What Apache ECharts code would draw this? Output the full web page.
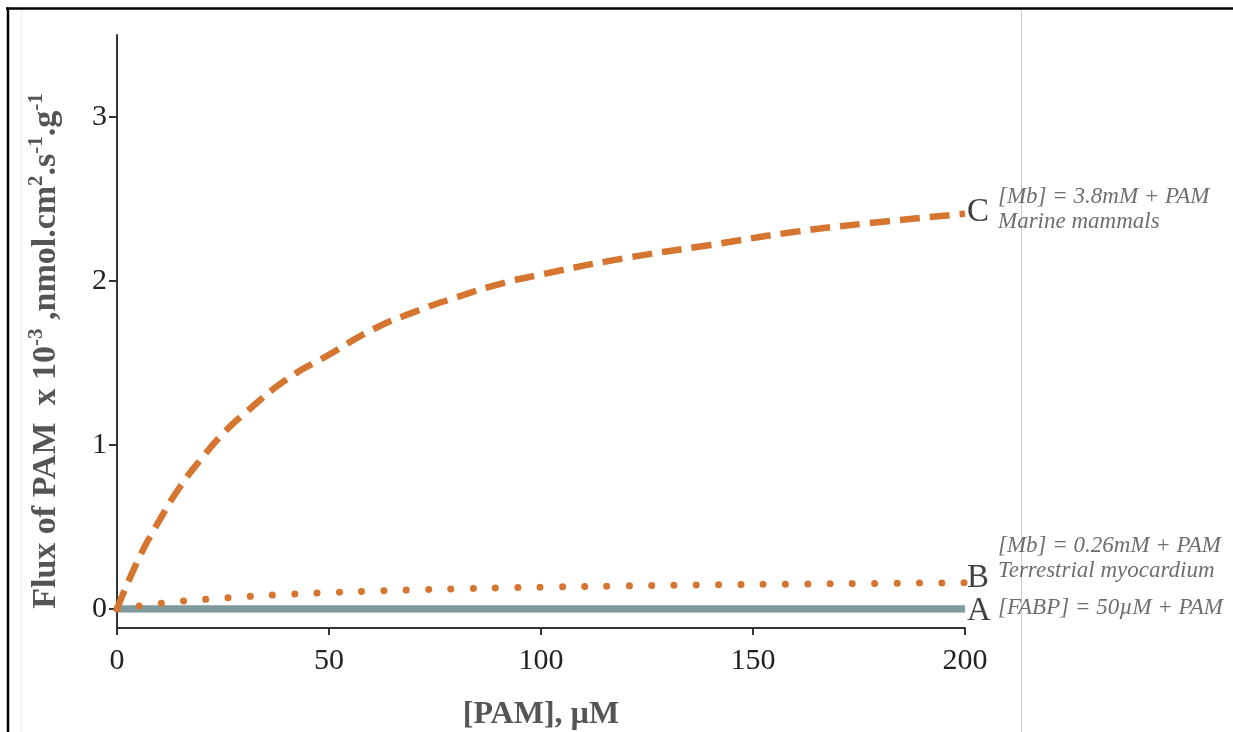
<!DOCTYPE html>
<html>
<head>
<meta charset="utf-8">
<script src="https://cdn.jsdelivr.net/npm/echarts@6/dist/echarts.min.js"></script>
<style>
html,body{margin:0;padding:0;background:#fff;}
#chart{width:1233px;height:732px;}
</style>
</head>
<body>
<div id="chart"></div>
<script>
// ---- data ----
const xPAM = [0, 5, 10, 15, 20, 25, 30, 40, 50, 60, 70, 80, 90, 100, 120, 140, 160, 180, 200];
const fluxA = [0, 0, 0, 0, 0, 0, 0, 0, 0, 0, 0, 0, 0, 0, 0, 0, 0, 0, 0];
const fluxB = [0, 0.018, 0.034, 0.047, 0.057, 0.067, 0.075, 0.089, 0.10, 0.109, 0.117, 0.123, 0.129, 0.133, 0.141, 0.147, 0.152, 0.156, 0.16];
const fluxC = [0, 0.30, 0.54, 0.75, 0.92, 1.07, 1.19, 1.40, 1.55, 1.70, 1.81, 1.90, 1.98, 2.04, 2.14, 2.22, 2.30, 2.36, 2.41];
const xTicks = [0, 50, 100, 150, 200];
const yTicks = [0, 1, 2, 3];
const curveLetters = ['A', 'B', 'C'];
const curveNotes = [
  '[FABP] = 50µM + PAM',
  '[Mb] = 0.26mM + PAM\nTerrestrial myocardium',
  '[Mb] = 3.8mM + PAM\nMarine mammals'
];

const SERIF = '"Liberation Serif", "DejaVu Serif", serif';
const pairs = ys => xPAM.map((x, i) => [x, ys[i]]);
const allY = [fluxA, fluxB, fluxC];
const endPts = allY.map(ys => [xPAM[xPAM.length - 1], ys[ys.length - 1]]);

const letterOffsets = [[0, 2], [0, -4], [0, -1]];
const noteOffsets = [[0, -1], [0, -24], [0, -4]];

const chart = echarts.init(document.getElementById('chart'), null, {renderer: 'canvas'});

const option = {
  backgroundColor: '#ffffff',
  animation: false,
  grid: [
    {left: 117, right: 268, top: 35, bottom: 123, containLabel: false, outerBoundsMode: 'none'},
    {left: 117, right: 268, top: 35, bottom: 104, containLabel: false, outerBoundsMode: 'none'}
  ],
  xAxis: [
    {gridIndex: 0, type: 'value', min: 0, max: 200, show: false},
    {
      gridIndex: 1, type: 'value', min: 0, max: 200, interval: 50,
      axisLine: {show: true, lineStyle: {color: '#333', width: 2}},
      axisTick: {show: true, length: 7, lineStyle: {color: '#333', width: 2}},
      axisLabel: {show: true, margin: 18, fontSize: 30, fontFamily: SERIF, color: '#222',
        customValues: xTicks},
      splitLine: {show: false},
      name: '[PAM], µM', nameLocation: 'middle', nameGap: 71,
      nameTextStyle: {fontSize: 32, fontWeight: 'bold', fontFamily: SERIF, color: '#555'}
    }
  ],
  yAxis: [
    {
      gridIndex: 0, type: 'value', min: 0, max: 3.5, interval: 1,
      axisLine: {show: false},
      axisTick: {show: true, length: 8, customValues: yTicks, lineStyle: {color: '#333', width: 2}},
      axisLabel: {show: true, margin: 10, fontSize: 30, fontFamily: SERIF, color: '#222',
        customValues: yTicks},
      splitLine: {show: false},
      name: '{b|Flux of PAM  x 10}{s|-3}{b| ,nmol.cm}{s|2}{b|.s}{s|-1}{b|.g}{s|-1}',
      nameLocation: 'middle', nameGap: 54, nameRotate: 90,
      nameTextStyle: {
        padding: [0, 58, 0, 0],
        rich: {
          b: {fontSize: 34, fontWeight: 'bold', fontFamily: SERIF, color: '#555', lineHeight: 37, verticalAlign: 'bottom'},
          s: {fontSize: 21, fontWeight: 'bold', fontFamily: SERIF, color: '#555', lineHeight: 37, verticalAlign: 'top'}
        }
      }
    },
    {
      gridIndex: 1, type: 'value', min: 0, max: 1,
      axisLine: {show: true, lineStyle: {color: '#333', width: 2}},
      axisTick: {show: false}, axisLabel: {show: false}, splitLine: {show: false}
    }
  ],
  series: [
    {
      name: 'A', type: 'line', xAxisIndex: 0, yAxisIndex: 0, data: pairs(fluxA),
      showSymbol: false, symbol: 'none', z: 3,
      lineStyle: {color: '#7f999c', width: 7.5, cap: 'butt'}
    },
    {
      name: 'B', type: 'line', xAxisIndex: 0, yAxisIndex: 0, data: pairs(fluxB),
      showSymbol: false, symbol: 'none', smooth: true, z: 4,
      lineStyle: {color: '#d57530', width: 7, type: [0.01, 22.3], cap: 'round'}
    },
    {
      name: 'C', type: 'line', xAxisIndex: 0, yAxisIndex: 0, data: pairs(fluxC),
      showSymbol: false, symbol: 'none', smooth: true, z: 5,
      lineStyle: {color: '#d57530', width: 6.5, type: [20, 10], cap: 'butt'}
    },
    {
      name: 'letters', type: 'scatter', xAxisIndex: 0, yAxisIndex: 0, symbolSize: 0,
      silent: true, z: 6,
      data: endPts.map((p, i) => ({
        value: p, name: curveLetters[i],
        label: {offset: letterOffsets[i]}
      })),
      label: {
        show: true, position: 'right', distance: 2,
        formatter: p => p.name,
        fontSize: 33, fontFamily: SERIF, color: '#111'
      }
    },
    {
      name: 'notes', type: 'scatter', xAxisIndex: 0, yAxisIndex: 0, symbolSize: 0,
      silent: true, z: 6,
      data: endPts.map((p, i) => ({
        value: p, name: curveNotes[i],
        label: {offset: noteOffsets[i]}
      })),
      label: {
        show: true, position: 'right', distance: 33, align: 'left',
        formatter: p => p.name,
        fontSize: 23, fontStyle: 'italic', fontFamily: SERIF, color: '#4a4a4a', lineHeight: 25
      }
    }
  ],
  graphic: [
    {type: 'line', shape: {x1: 6, y1: 8.5, x2: 1233, y2: 8.5}, style: {stroke: '#000', lineWidth: 2.5}, silent: true},
    {type: 'line', shape: {x1: 8, y1: 7.5, x2: 8, y2: 732}, style: {stroke: '#000', lineWidth: 2.5}, silent: true},
    {type: 'line', shape: {x1: 21.5, y1: 10, x2: 21.5, y2: 732}, style: {stroke: '#eeeeee', lineWidth: 1}, silent: true},
    {type: 'line', shape: {x1: 1021.5, y1: 10, x2: 1021.5, y2: 732}, style: {stroke: '#cccccc', lineWidth: 1}, silent: true}
  ]
};
chart.setOption(option);
</script>
</body>
</html>
